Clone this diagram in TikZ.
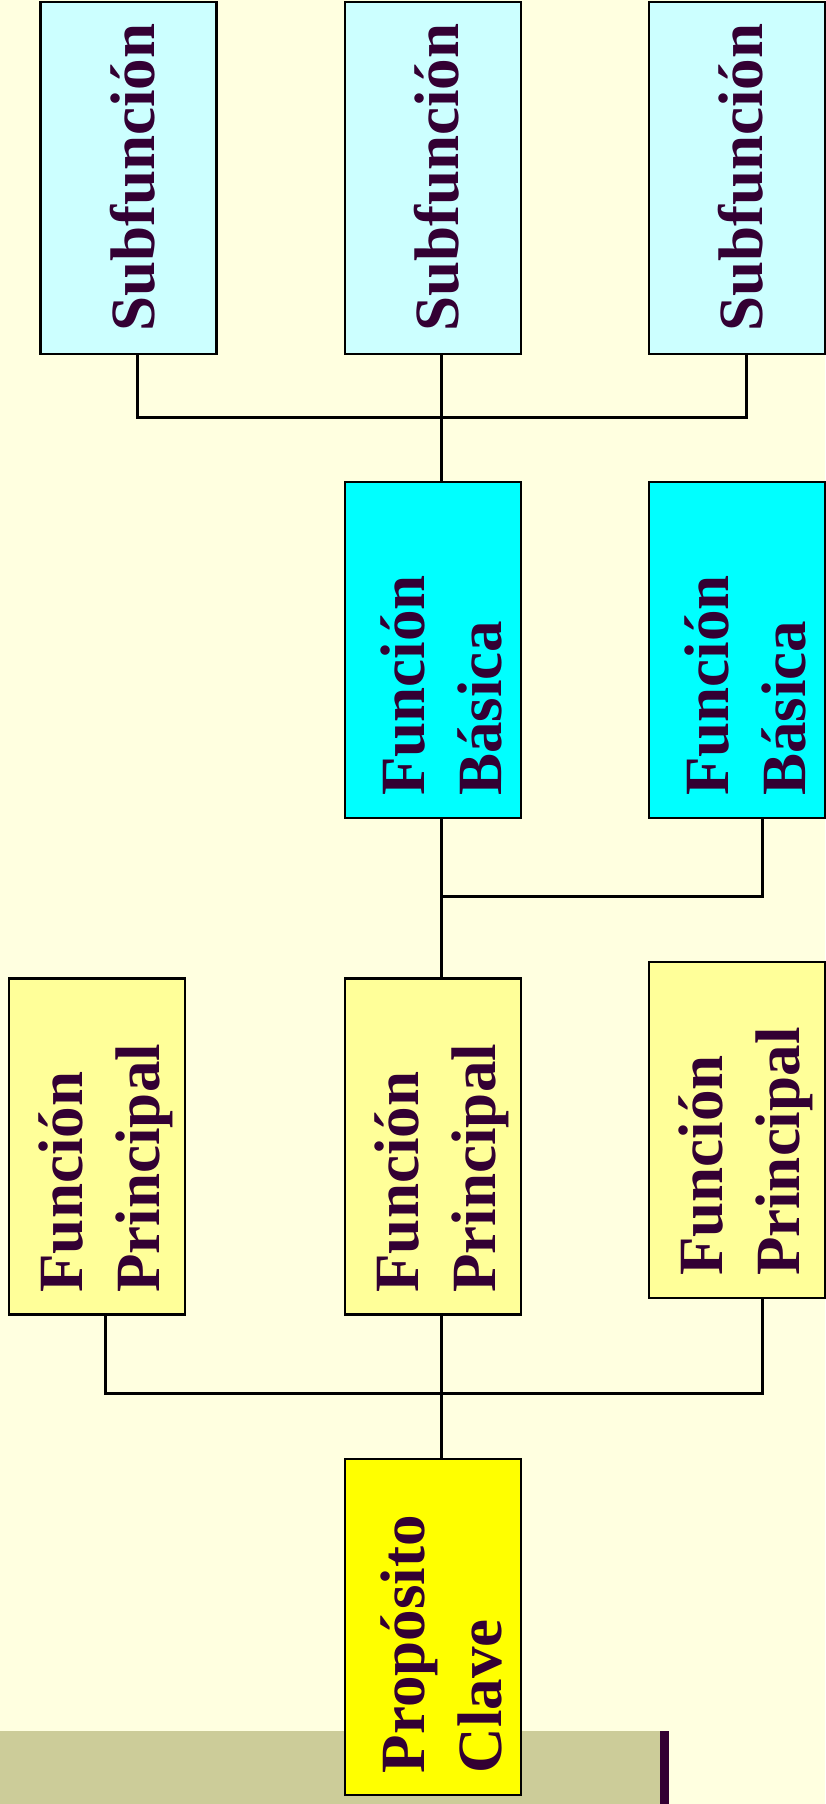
\documentclass[tikz,border=0pt]{standalone}
\usepackage{fontspec}
\setmainfont{Liberation Serif}
\definecolor{bg}{HTML}{FFFFE0}
\definecolor{ink}{HTML}{330033}
\definecolor{band}{HTML}{CCCC99}
\definecolor{subfill}{HTML}{CCFFFF}
\definecolor{basfill}{HTML}{00FFFF}
\definecolor{prinfill}{HTML}{FFFF99}
\definecolor{keyfill}{HTML}{FFFF00}
\begin{document}
\begin{tikzpicture}[x=1pt,y=1pt,
    box/.style={draw=black, line width=2.5pt, rotate=90, inner xsep=22pt, inner ysep=0pt,
        minimum width=336pt, minimum height=176pt, text width=292pt, text height=61pt, align=left,
        font=\fontsize{63}{77}\selectfont\bfseries, text=ink},
    subbox/.style={box, minimum width=352pt, text width=308pt, text height=51pt, text depth=0pt, fill=subfill},
    line/.style={line width=3pt}]
    \useasboundingbox (0,0) rectangle (825,1804);
    \fill[bg] (0,0) rectangle (825,1804);
    \fill[band] (0,0) rectangle (660,73);
    \fill[ink] (660,0) rectangle (669,73);

    \node[subbox] (sub1) at (128.5,1626) {Subfunción};
    \node[subbox] (sub2) at (433,1626) {Subfunción};
    \node[subbox] (sub3) at (737,1626) {Subfunción};

    \node[box, fill=basfill] (bas1) at (433,1154) {Función\\Básica};
    \node[box, fill=basfill] (bas2) at (737,1154) {Función\\Básica};

    \node[box, fill=prinfill] (prin1) at (97,657.5) {Función\\Principal};
    \node[box, fill=prinfill] (prin2) at (433,657.5) {Función\\Principal};
    \node[box, fill=prinfill] (prin3) at (737,674) {Función\\Principal};

    \node[box, fill=keyfill] (key) at (433,177) {Propósito\\Clave};

    % subfunciones
    \coordinate (jsub) at (441,1386);
    \coordinate (csub1) at (137,1386);
    \coordinate (csub3) at (746,1386);
\draw[line] (sub1.west -| csub1) -- (csub1) -- (csub3) -- (sub3.west -| csub3);
\draw[line] (sub2.west -| jsub) -- (bas1.east -| jsub);

    % funciones basicas
    \coordinate (jbas) at (441,907);
    \coordinate (cbas2) at (762,907);
\draw[line] (bas1.west -| jbas) -- (prin2.east -| jbas);
\draw[line] (jbas) -- (cbas2) -- (bas2.west -| cbas2);

    % funciones principales
    \coordinate (jprin) at (441,410);
    \coordinate (cprin1) at (105,410);
    \coordinate (cprin3) at (762,410);
\draw[line] (prin1.west -| cprin1) -- (cprin1) -- (cprin3) -- (prin3.west -| cprin3);
\draw[line] (prin2.west -| jprin) -- (key.east -| jprin);

\end{tikzpicture}
\end{document}
